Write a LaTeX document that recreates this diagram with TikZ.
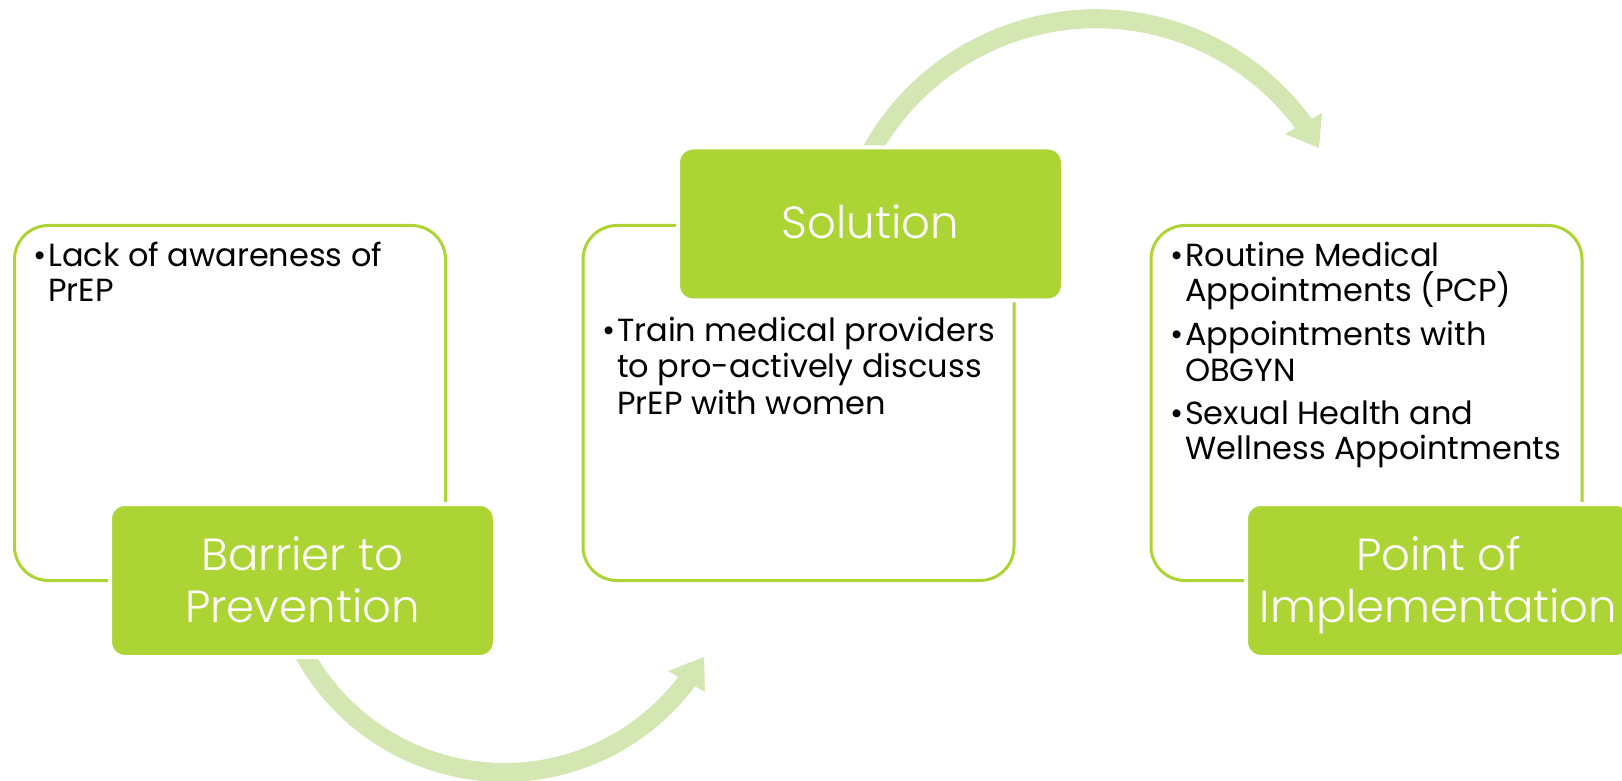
\documentclass[tikz,border=0pt]{standalone}
\usepackage{fontspec}
\setmainfont{Poppins}
\newfontfamily\lightfont{Poppins}[UprightFont={* Light}]
\usetikzlibrary{calc}
\definecolor{boxgreen}{HTML}{ADD435}
\definecolor{arrowgreen}{HTML}{D4E6B1}
\tikzset{
  panel/.style={draw=boxgreen, line width=3pt, fill=white, rounded corners=34pt,
    minimum width=431pt, minimum height=355pt, inner sep=0pt},
  tab/.style={draw=white, line width=4pt, fill=boxgreen, rounded corners=15pt,
    minimum width=385pt, minimum height=153pt, inner sep=0pt},
  tabtext/.style={anchor=base, inner sep=0pt, text=white, font=\lightfont\fontsize{45}{52}\selectfont},
  item/.style={anchor=base west, inner sep=0pt, text=black, font=\fontsize{32}{35}\selectfont},
  flow/.style={draw=arrowgreen, line width=19pt},
  flowhead/.style={fill=arrowgreen, draw=none},
}
\begin{document}
\begin{tikzpicture}[x=1pt,y=1pt]
\useasboundingbox (0,0) rectangle (1622,780);
\clip (0,0) rectangle (1622,780);
% curved arrows
\coordinate (c1) at (504.3,235.7);
\coordinate (c2) at (1096.2,503.7);
\coordinate (h1a) at (668,109);
\coordinate (h1b) at (704,123);
\coordinate (h1c) at (705,88);
\coordinate (h2a) at (1285,646);
\coordinate (h2b) at (1319,632);
\coordinate (h2c) at (1322,667);
\draw[flow] ([shift={(205:228.2)}]c1) arc[start angle=205, end angle=324, radius=228.2];
\fill[flowhead] (h1a) -- (h1b) -- (h1c) -- cycle;
\draw[flow] ([shift={(155:257.5)}]c2) arc[start angle=155, end angle=35.5, radius=257.5];
\fill[flowhead] (h2a) -- (h2b) -- (h2c) -- cycle;
% panels
\node[panel] (p1) at (230,377) {};
\node[panel] (p2) at (798.5,377) {};
\node[panel] (p3) at (1366.5,377) {};
\node[tab] (g1) at (302.5,199.5) {};
\node[tab] (g2) at (870.5,556) {};
\node[tab] (g3) at (1438.5,199.5) {};
% tab texts
\node[tabtext] (g1a) at (302.5,210) {Barrier to};
\node[tabtext] (g1b) at (302.5,158) {Prevention};
\node[tabtext] (g2a) at (870.5,541) {Solution};
\node[tabtext] (g3a) at (1438.5,210) {Point of};
\node[tabtext] (g3b) at (1438.5,158) {Implementation};
% left items
\node[item] (b1) at (33,513) {•};
\node[item] (l1a) at (48,513) {Lack of awareness of};
\node[item] (l1b) at (48,478) {PrEP};
% middle items
\node[item] (b2) at (602,438) {•};
\node[item] (m1a) at (617,438) {Train medical providers};
\node[item] (m1b) at (617,402) {to pro-actively discuss};
\node[item] (m1c) at (617,365) {PrEP with women};
% right items
\node[item] (b3) at (1170,513) {•};
\node[item] (r1a) at (1185,513) {Routine Medical};
\node[item] (r1b) at (1185,478) {Appointments (PCP)};
\node[item] (b4) at (1170,434) {•};
\node[item] (r2a) at (1185,434) {Appointments with};
\node[item] (r2b) at (1185,398) {OBGYN};
\node[item] (b5) at (1170,355) {•};
\node[item] (r3a) at (1185,355) {Sexual Health and};
\node[item] (r3b) at (1185,320) {Wellness Appointments};
\end{tikzpicture}
\end{document}
